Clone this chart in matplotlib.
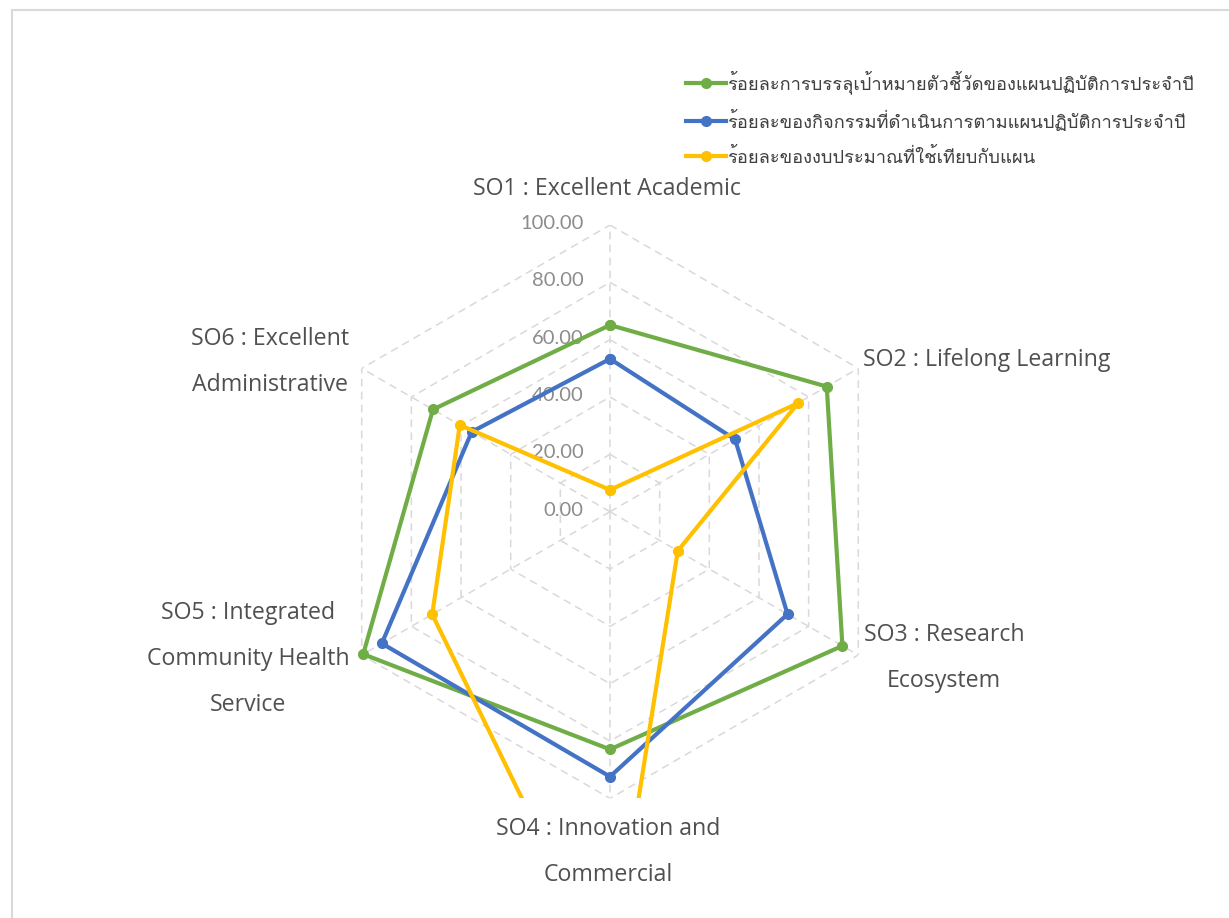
import matplotlib
matplotlib.use("Agg")
import matplotlib.pyplot as plt
import numpy as np
from matplotlib import font_manager
from matplotlib.ft2font import FT2Font
from matplotlib.lines import Line2D
from matplotlib.patches import Rectangle

# data
categories = [
    "SO1 : Excellent Academic",
    "SO2 : Lifelong Learning",
    "SO3 : Research\nEcosystem",
    "SO4 : Innovation and\nCommercial",
    "SO5 : Integrated\nCommunity Health\nService",
    "SO6 : Excellent\nAdministrative",
]
series_names = [
    "ร้อยละการบรรลุเป้าหมายตัวชี้วัดของแผนปฏิบัติการประจำปี",
    "ร้อยละของกิจกรรมที่ดำเนินการตามแผนปฏิบัติการประจำปี",
    "ร้อยละของงบประมาณที่ใช้เทียบกับแผน",
]
kpi_pct = [65.1, 87.3, 93.6, 82.9, 99.4, 71.3]
activity_pct = [53.3, 50.4, 71.5, 92.4, 91.9, 55.7]
budget_pct = [7.6, 75.7, 27.3, 163.0, 71.6, 60.5]
rings = [0, 20, 40, 60, 80, 100]

W, H = 1229, 918
colors = ["#70AD47", "#4472C4", "#FFC000"]


def find_thai_font():
    # look for any installed font that carries Thai glyphs
    for f in font_manager.fontManager.ttflist:
        try:
            if 0x0E23 in FT2Font(f.fname).get_charmap():
                return f.name
        except Exception:
            pass
    return "DejaVu Sans"


thai_font = find_thai_font()

fig = plt.figure(figsize=(W / 100, H / 100), dpi=100)
fig.patch.set_facecolor("white")

# light frame of the chart area
fig.add_artist(Line2D([12 / W, 12 / W], [0, 1 - 10 / H], color="#d9d9d9", lw=1.5,
                      transform=fig.transFigure))
fig.add_artist(Line2D([12 / W, 1], [1 - 10 / H, 1 - 10 / H], color="#d9d9d9", lw=1.5,
                      transform=fig.transFigure))

# polar axes placed so the centre sits at (610, 512) px, r=100 -> 287 px
cx, cy, rad = 610, 511.7, 286.7
ax = fig.add_axes([(cx - rad) / W, 1 - (cy + rad) / H, 2 * rad / W, 2 * rad / H],
                  projection="polar")
ax.set_theta_offset(np.pi / 2)
ax.set_theta_direction(-1)
ax.set_ylim(0, 100)
ax.grid(False)
ax.set_xticks([])
ax.set_yticks([])
ax.spines["polar"].set_visible(False)
ax.patch.set_alpha(0)

n = len(categories)
theta = np.linspace(0, 2 * np.pi, n, endpoint=False)
theta_c = np.append(theta, theta[0])

# hexagonal dashed grid and spokes
grid_kw = dict(color="#d9d9d9", lw=1.1, linestyle=(0, (5, 3.5)), zorder=1)
for r in rings[1:]:
    ax.plot(theta_c, [r] * (n + 1), **grid_kw)
for t in theta:
    ax.plot([t, t], [0, 100], **grid_kw)

for r in rings:
    ax.annotate(f"{r:.2f}", xy=(0, r), xytext=(-19, 1), textcoords="offset points",
                ha="right", va="center", fontsize=14.5, color="#8c8c8c",
                family="Lato", annotation_clip=False)

handles = []
for vals, col, name in zip([kpi_pct, activity_pct, budget_pct], colors, series_names):
    v = np.append(vals, vals[0])
    (ln,) = ax.plot(theta_c, v, color=col, lw=3, marker="o", markersize=7,
                    label=name, zorder=3)
    if vals is budget_pct:
        # the third series runs past the outer ring and is cut at the plot area
        ln.set_clip_path(Rectangle((-1, 0.0), 3, 2, transform=ax.transAxes))
    else:
        ln.set_clip_on(False)
    handles.append(ln)

# category labels
label_pos = [(607, 189), (987, 360), (944, 658), (608, 852), (248, 659), (270, 362)]
for text, (px, py) in zip(categories, label_pos):
    fig.text(px / W, 1 - py / H, text, ha="center", va="center", ma="center",
             fontsize=16.7, color="#505050", family="Open Sans", linespacing=2.2)

leg = fig.legend(handles=handles, loc="upper left",
                 bbox_to_anchor=(669 / W, 1 - 54 / H), frameon=False,
                 prop={"family": thai_font, "size": 13.2}, labelcolor="#404040",
                 handlelength=2.2, handletextpad=0.05, labelspacing=0.85)

fig.savefig("out.png", dpi=100)
